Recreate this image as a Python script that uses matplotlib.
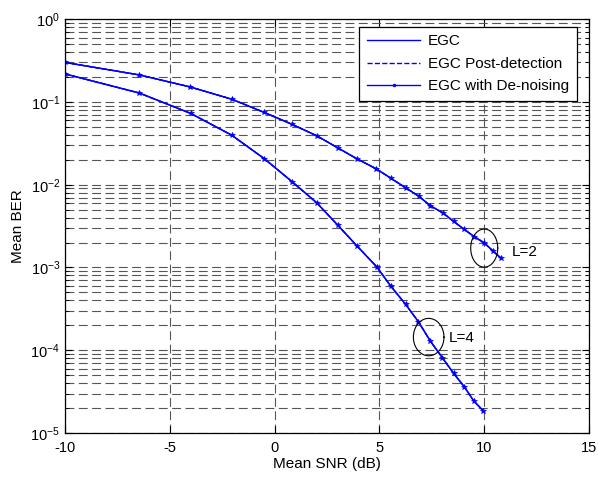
import numpy as np
import matplotlib
matplotlib.use("Agg")
import matplotlib.pyplot as plt
from matplotlib.ticker import LogLocator, FixedLocator, NullFormatter

plt.rcParams['font.family'] = ['Liberation Sans', 'DejaVu Sans']
plt.rcParams['mathtext.fontset'] = 'custom'
plt.rcParams['mathtext.rm'] = 'Liberation Sans'
plt.rcParams['mathtext.it'] = 'Liberation Sans'
plt.rcParams['mathtext.default'] = 'regular'
plt.rcParams['axes.unicode_minus'] = False

# Data
snr_L2 = [-10, -6.45, -4.04, -2.05, -0.49, 0.84, 2.01, 3.01, 3.95, 4.84, 5.54,
          6.25, 6.89, 7.43, 8.02, 8.54, 9.05, 9.53, 9.99, 10.41, 10.79]
ber_L2 = [0.30, 0.212, 0.152, 0.108, 0.0746, 0.0535, 0.039, 0.0279, 0.0204,
          0.0156, 0.0120, 0.00918, 0.00723, 0.00556, 0.00458, 0.0036, 0.00288,
          0.00235, 0.00199, 0.00159, 0.0013]
snr_L4 = [-10, -6.45, -4.0, -2.05, -0.49, 0.84, 2.01, 3.01, 3.92, 4.87, 5.54,
          6.25, 6.86, 7.43, 8.0, 8.54, 9.05, 9.51, 9.96]
ber_L4 = [0.218, 0.128, 0.0726, 0.0397, 0.0206, 0.01084, 0.00604, 0.00325,
          0.00183, 0.00102, 5.96e-4, 3.58e-4, 2.21e-4, 1.29e-4, 8.13e-5,
          5.26e-5, 3.62e-5, 2.42e-5, 1.85e-5]

labels = ['EGC', 'EGC Post-detection', 'EGC with De-noising']
xticks = [-10, -5, 0, 5, 10, 15]

# Annotation ellipses: (x centre, log10 y centre, half-width, half-height in decades, label, label x, label log10 y)
ell_L2 = (10.0, -2.766, 0.645, 0.23, 'L=2', 11.3, -2.818)
ell_L4 = (7.35, -3.841, 0.73, 0.226, 'L=4', 8.29, -3.856)

FS = 10.5
FL = 11

fig = plt.figure(figsize=(5.98, 4.79), dpi=100)
ax = fig.add_axes([0.1087, 0.096, 0.8763, 0.864])

blue = '#0000ff'
for xs, ys in [(snr_L2, ber_L2), (snr_L4, ber_L4)]:
    l1, = ax.semilogy(xs, ys, '-', color=blue, lw=1.0)
    l2, = ax.semilogy(xs, ys, '--', color=blue, lw=1.0)
    l3, = ax.semilogy(xs, ys, '-', color=blue, lw=1.0, marker='*', ms=4,
                      markeredgewidth=0.5)

ax.set_xlim(-10, 15)
ax.set_ylim(1e-5, 1)
ax.xaxis.set_major_locator(FixedLocator(xticks))
ax.yaxis.set_major_locator(LogLocator(base=10, numticks=10))
ax.yaxis.set_minor_locator(LogLocator(base=10, subs=np.arange(2, 10), numticks=20))
ax.yaxis.set_minor_formatter(NullFormatter())

dash = (0, (8, 4))
ax.grid(True, which='major', axis='both', color='#555555', lw=0.8, linestyle=dash)
ax.grid(True, which='minor', axis='y', color='#555555', lw=0.8, linestyle=dash)
ax.set_axisbelow(True)

ax.tick_params(which='both', direction='in', top=True, right=True, labelsize=FS)
ax.tick_params(axis='x', pad=6)
ax.tick_params(which='major', length=5)
ax.tick_params(which='minor', length=3)
for s in ax.spines.values():
    s.set_linewidth(0.9)

ax.set_xlabel('Mean SNR (dB)', fontsize=FL, labelpad=1)
ax.set_ylabel('Mean BER', fontsize=FL, labelpad=4)

t = np.linspace(0, 2 * np.pi, 200)
for cx, cy, a, b, txt, tx, ty in [ell_L2, ell_L4]:
    ax.plot(cx + a * np.cos(t), 10 ** (cy + b * np.sin(t)), color='black', lw=0.8)
    ax.text(tx, 10 ** ty, txt, fontsize=FL, ha='left', va='center')

leg = ax.legend([l1, l2, l3], labels, loc='upper right',
                bbox_to_anchor=(0.9765, 0.9814), fontsize=FL, fancybox=False,
                framealpha=1, edgecolor='black', borderpad=0.5,
                labelspacing=0.55, handlelength=3.5, handletextpad=0.5,
                borderaxespad=0)
leg.get_frame().set_linewidth(0.9)
leg.legend_handles[2].set_marker('.')

fig.savefig('out.png', dpi=100)
